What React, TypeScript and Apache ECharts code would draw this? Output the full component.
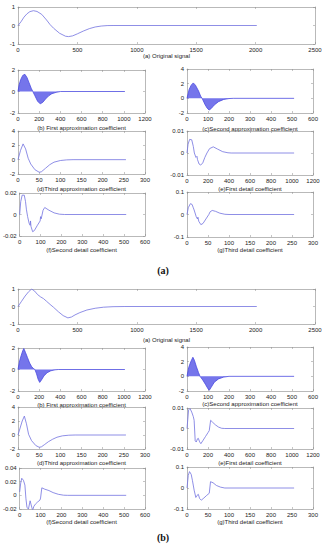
import React, { useEffect, useRef } from "react";
import * as echarts from "echarts";

// ---------- DATA ----------
// Section (a)
const aOriginal = [[0,0],[25,0.2],[50,0.45],[75,0.63],[100,0.75],[130,0.8],[160,0.76],[200,0.6],[240,0.3],[270,0.05],[300,-0.15],[350,-0.42],[400,-0.58],[425,-0.6],[460,-0.56],[500,-0.45],[550,-0.3],[600,-0.17],[650,-0.08],[700,-0.03],[750,-0.005],[800,0],[2010,0]];
const aFirstApprox = [[0,0],[10,0.6],[25,1.1],[45,1.5],[65,1.6],[85,1.3],[105,0.8],[125,0.3],[140,0],[160,-0.4],[185,-0.9],[210,-1.15],[235,-1.0],[260,-0.7],[290,-0.4],[320,-0.2],[360,-0.08],[400,0],[1010,0]];
const aSecondApprox = [[0,0],[10,1.2],[20,1.8],[30,2.1],[40,1.8],[55,1.0],[65,0.3],[72,0],[85,-0.8],[95,-1.3],[105,-1.6],[115,-1.4],[130,-0.9],[150,-0.45],[175,-0.15],[200,-0.03],[220,0],[510,0]];
const aThirdApprox = [[0,0],[6,1.3],[12,2.2],[18,1.5],[24,0.2],[30,-0.6],[40,-1.4],[50,-1.75],[55,-1.7],[65,-1.2],[75,-0.7],[85,-0.35],[100,-0.12],[115,-0.03],[130,0],[255,0]];
const aFirstDetail = [[0,0],[10,0.004],[25,0.0062],[45,0.006],[60,0.003],[70,0],[85,-0.002],[95,-0.0015],[100,-0.003],[115,-0.005],[130,-0.0055],[150,-0.0045],[170,-0.002],[190,0],[215,0.002],[250,0.0028],[290,0.0018],[340,0.0006],[390,0.0001],[420,0],[1020,0]];
const aSecondDetail = [[0,0],[5,0.012],[12,0.018],[22,0.018],[28,0.012],[32,0.005],[38,-0.002],[45,-0.008],[50,-0.01],[52,-0.006],[54,-0.011],[62,-0.016],[70,-0.015],[85,-0.01],[98,-0.006],[100,-0.002],[103,-0.004],[112,0.004],[120,0.0065],[140,0.004],[165,0.0015],[190,0.0003],[215,0],[510,0]];
const aThirdDetail = [[0,0],[3,0.03],[8,0.048],[12,0.045],[15,0.03],[17,0.02],[22,-0.01],[25,-0.02],[26,-0.012],[28,-0.03],[33,-0.045],[38,-0.04],[45,-0.02],[52,0],[55,0.012],[60,0.018],[68,0.014],[78,0.006],[90,0.001],[100,0],[255,0]];

// Section (b)
const bOriginal = [[0,0],[30,0.3],[60,0.6],[90,0.85],[115,1.0],[140,0.88],[165,0.68],[190,0.55],[215,0.45],[240,0.3],[270,0.12],[300,-0.05],[340,-0.3],[380,-0.52],[420,-0.65],[450,-0.6],[480,-0.48],[520,-0.35],[580,-0.2],[650,-0.1],[720,-0.04],[800,-0.01],[900,0],[2010,0]];
const bFirstApprox = [[0,0],[15,0.8],[30,1.3],[45,1.75],[55,1.95],[70,1.6],[90,1.1],[110,0.6],[130,0.25],[150,0.05],[160,0],[175,-0.4],[190,-0.9],[205,-1.2],[220,-1.0],[245,-0.6],[275,-0.3],[310,-0.12],[350,-0.03],[380,0],[1010,0]];
const bSecondApprox = [[0,0],[8,1.2],[18,2.0],[28,2.6],[35,2.2],[45,1.3],[55,0.5],[62,0],[75,-0.5],[88,-1.1],[100,-1.7],[106,-1.9],[115,-1.5],[130,-0.8],[150,-0.35],[175,-0.1],[200,0],[510,0]];
const bThirdApprox = [[0,0],[5,1.0],[10,2.0],[15,2.7],[20,1.6],[25,0.1],[32,-0.8],[42,-1.5],[50,-1.75],[55,-1.7],[62,-1.4],[72,-0.95],[82,-0.6],[92,-0.32],[105,-0.12],[120,-0.03],[135,0],[255,0]];
const bFirstDetail = [[0,0],[15,0.009],[28,0.0098],[45,0.008],[60,0.0058],[68,0.004],[78,-0.006],[88,-0.0066],[100,-0.005],[108,-0.0048],[120,-0.0065],[132,-0.0074],[150,-0.006],[175,-0.004],[200,-0.002],[212,-0.001],[225,0.004],[245,0.003],[270,0.0018],[300,0.0007],[330,0.0001],[360,0],[1020,0]];
const bSecondDetail = [[0,0.005],[5,0.018],[10,0.025],[18,0.022],[25,0.015],[30,-0.005],[35,-0.018],[42,-0.02],[50,-0.008],[55,-0.014],[62,-0.022],[68,-0.016],[75,-0.013],[85,-0.01],[97,-0.007],[100,-0.004],[106,0.011],[120,0.009],[140,0.007],[160,0.004],[185,0.0015],[210,0.0002],[230,0],[510,0]];
const bThirdDetail = [[0,0],[3,0.06],[6,0.078],[10,0.065],[13,0.035],[17,-0.01],[21,-0.045],[24,-0.035],[27,-0.03],[30,-0.05],[34,-0.058],[40,-0.048],[47,-0.035],[53,-0.025],[56,0.03],[62,0.025],[70,0.012],[80,0.004],[90,0],[255,0]];

const titles = [
  "(a) Original signal",
  "(b) First approximation coefficient",
  "(c)Second approximation coefficient",
  "(d)Third approximation coefficient",
  "(e)First detail coefficient",
  "(f)Second detail coefficient",
  "(g)Third detail coefficient",
];
const sectionLabels = ["(a)", "(b)"];

// axis ranges: [xMax, xInterval, yMin, yMax, yInterval]
const rangesA = [
  [2500, 500, -1, 1, 1],
  [1200, 200, -2, 2, 2],
  [600, 100, -2, 4, 2],
  [300, 50, -2, 4, 2],
  [1200, 200, -0.01, 0.01, 0.01],
  [600, 100, -0.02, 0.02, 0.02],
  [300, 50, -0.1, 0.1, 0.1],
];
const rangesB = [
  [2500, 500, -1, 1, 1],
  [1200, 200, -2, 2, 2],
  [600, 100, -2, 4, 2],
  [300, 50, -2, 4, 2],
  [1200, 200, -0.01, 0.01, 0.01],
  [600, 100, -0.02, 0.04, 0.02],
  [300, 50, -0.1, 0.1, 0.1],
];

// ---------- LAYOUT ----------
// [left, top, width, height, titleY]
const layoutA = [
  [18, 7, 297, 37, 56],
  [18, 70, 127, 43, 128],
  [187, 69, 126, 44, 129],
  [18, 131, 127, 43, 189],
  [187, 131, 126, 44, 189],
  [18, 193, 127, 43, 250],
  [187, 192, 126, 45, 250],
];
const layoutB = [
  [18, 289, 297, 35, 340],
  [18, 348, 127, 43, 405],
  [187, 347, 126, 44, 404],
  [18, 407, 127, 42, 463],
  [187, 408, 126, 41, 463],
  [18, 468, 127, 41, 522],
  [187, 467, 126, 42, 522],
];
const dense = [false, true, true, false, false, false, false];

const FONT = "'Liberation Sans', Arial, sans-serif";
const fmt = (v: number) => String(parseFloat(Number(v).toPrecision(8)));

export default function App() {
  const ref = useRef<HTMLDivElement>(null);
  useEffect(() => {
    if (!ref.current) return;
    const chart = echarts.init(ref.current, null, { renderer: "svg" });
    const grids: any[] = [];
    const xAxes: any[] = [];
    const yAxes: any[] = [];
    const series: any[] = [];
    const graphic: any[] = [];
    const sections = [
      { data: [aOriginal, aFirstApprox, aSecondApprox, aThirdApprox, aFirstDetail, aSecondDetail, aThirdDetail], ranges: rangesA, layout: layoutA },
      { data: [bOriginal, bFirstApprox, bSecondApprox, bThirdApprox, bFirstDetail, bSecondDetail, bThirdDetail], ranges: rangesB, layout: layoutB },
    ];
    const axisLine = { show: true, onZero: false, lineStyle: { color: "#8a8a8a", width: 0.6 } };
    const axisTick = { show: true, inside: true, length: 2, lineStyle: { color: "#8a8a8a", width: 0.5 } };
    const axisLabel = { fontSize: 6, color: "#222", fontFamily: FONT, margin: 3, showMinLabel: true, showMaxLabel: true, formatter: fmt };
    sections.forEach((sec) => {
      sec.data.forEach((d, k) => {
        const gi = grids.length;
        const [l, t, w, h, ty] = sec.layout[k];
        const [xMax, xInt, yMin, yMax, yInt] = sec.ranges[k];
        grids.push({ left: l, top: t, width: w, height: h, show: false });
        const xi = xAxes.length;
        xAxes.push({ type: "value", gridIndex: gi, position: "bottom", min: 0, max: xMax, interval: xInt, axisLine, axisTick, axisLabel, splitLine: { show: false } });
        xAxes.push({ type: "value", gridIndex: gi, position: "top", min: 0, max: xMax, interval: xInt, axisLine, axisTick, axisLabel: { show: false }, splitLine: { show: false } });
        const yi = yAxes.length;
        yAxes.push({ type: "value", gridIndex: gi, position: "left", min: yMin, max: yMax, interval: yInt, axisLine, axisTick, axisLabel, splitLine: { show: false } });
        yAxes.push({ type: "value", gridIndex: gi, position: "right", min: yMin, max: yMax, interval: yInt, axisLine, axisTick, axisLabel: { show: false }, splitLine: { show: false } });
        const s: any = {
          type: "line",
          xAxisIndex: xi,
          yAxisIndex: yi,
          data: d,
          showSymbol: false,
          symbol: "none",
          lineStyle: { color: dense[k] ? "#4a4ae0" : "#7272e0", width: 0.8 },
          silent: true,
        };
        if (dense[k]) s.areaStyle = { color: "#3a3ae2", opacity: 0.7 };
        series.push(s);
        graphic.push({
          type: "text",
          x: l + w / 2,
          y: ty,
          style: { text: titles[k], fontSize: 6, fill: "#222", fontFamily: FONT, textAlign: "center", textVerticalAlign: "middle" },
        });
      });
    });
    graphic.push({ type: "text", x: 163, y: 270, style: { text: sectionLabels[0], fontSize: 10, fontWeight: "bold", fill: "#111", fontFamily: "'Liberation Serif', 'Times New Roman', serif", textAlign: "center", textVerticalAlign: "middle" } });
    graphic.push({ type: "text", x: 163, y: 537, style: { text: sectionLabels[1], fontSize: 10, fontWeight: "bold", fill: "#111", fontFamily: "'Liberation Serif', 'Times New Roman', serif", textAlign: "center", textVerticalAlign: "middle" } });

    chart.setOption({
      animation: false,
      backgroundColor: "#ffffff",
      grid: grids,
      xAxis: xAxes,
      yAxis: yAxes,
      series,
      graphic,
    });
    return () => chart.dispose();
  }, []);
  return <div ref={ref} style={{ position: "fixed", left: 0, top: 0, width: 327, height: 550 }} />;
}
